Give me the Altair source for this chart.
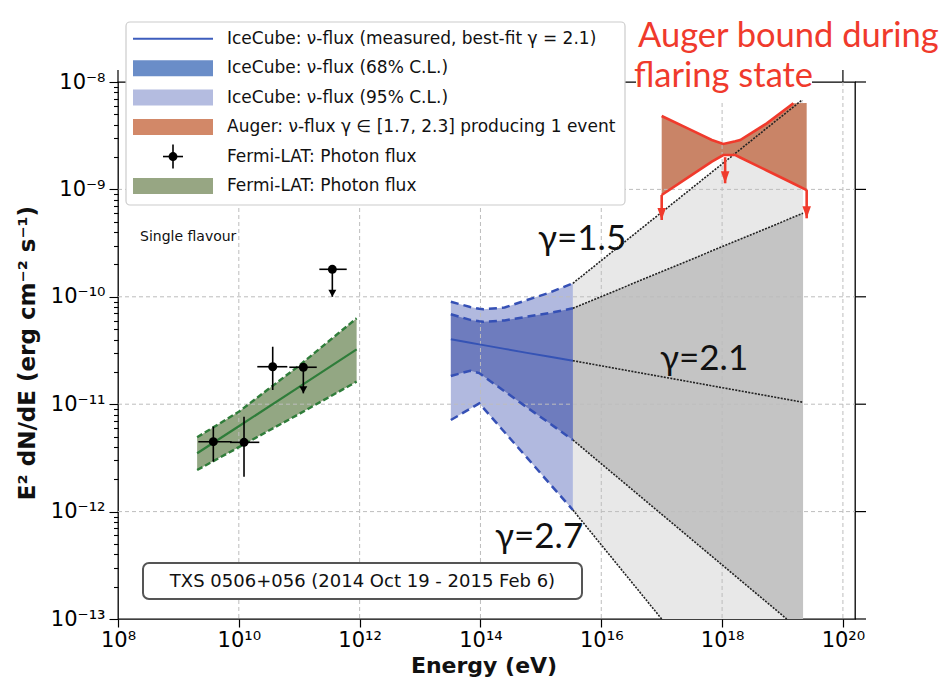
import altair as alt
import pandas as pd

# ---------------------------------------------------------------------------
# Values are stored as log10: energy in eV, flux as E^2 dN/dE in erg cm^-2 s^-1
# ---------------------------------------------------------------------------

# Fermi-LAT spectral points (last two are upper limits)
fermi_log_e = [9.578, 10.086, 10.561, 11.068, 11.548]
fermi_log_e_lo = [9.329, 9.854, 10.306, 10.836, 11.333]
fermi_log_e_hi = [9.882, 10.339, 10.803, 11.290, 11.786]
fermi_log_f = [-11.349, -11.355, -10.651, -10.656, -9.744]
fermi_log_f_lo = [-11.535, -11.675, -10.868, -10.899, -10.000]
fermi_log_f_hi = [-11.209, -11.116, -10.465, -10.656, -9.744]
fermi_upper_limit = [False, False, False, True, True]

# Fermi-LAT power-law butterfly
fermi_band_log_e = [9.31, 10.0, 11.0, 11.95]
fermi_band_mid = [-11.457, -11.205, -10.838, -10.489]
fermi_band_up = [-11.308, -11.070, -10.640, -10.200]
fermi_band_lo = [-11.613, -11.400, -11.090, -10.790]

# IceCube neutrino flux (best fit gamma = 2.1) with 68% / 95% C.L. contours
ic_log_e = [13.51, 13.83, 13.98, 14.05, 14.40, 14.77, 15.15, 15.53]
ic_best = [-10.396, -10.428, -10.443, -10.450, -10.485, -10.522, -10.559, -10.595]
ic_up68 = [-10.163, -10.215, -10.228, -10.232, -10.220, -10.185, -10.150, -10.107]
ic_lo68 = [-10.737, -10.688, -10.710, -10.740, -10.880, -11.030, -11.180, -11.333]
ic_up95 = [-10.046, -10.095, -10.112, -10.116, -10.100, -10.030, -9.960, -9.874]
ic_lo95 = [-11.147, -11.042, -10.992, -11.037, -11.261, -11.498, -11.742, -11.985]

# Extrapolation of the IceCube spectrum to higher energies
ext_light_log_e = [15.53, 17.00, 19.34]
ext_light_top = [-9.874, -9.213, -8.160]
ext_light_bot = [-11.985, -13.000, -13.000]
ext_dark_log_e = [15.53, 19.07, 19.34]
ext_dark_top = [-10.107, -9.286, -9.222]
ext_dark_bot = [-11.333, -13.000, -13.000]
ext_lines = {
    "g15": [(15.53, -9.874), (19.34, -8.160)],
    "up68": [(15.53, -10.107), (19.34, -9.222)],
    "g21": [(15.53, -10.595), (19.34, -10.982)],
    "lo68": [(15.53, -11.333), (19.07, -13.000)],
    "g27": [(15.53, -11.985), (17.00, -13.000)],
}

# Auger bound (gamma in [1.7, 2.3], one event)
auger_log_e = [17.00, 17.50, 17.83, 18.02, 18.22, 18.30, 18.74, 19.18, 19.40]
auger_up = [-8.317, -8.451, -8.540, -8.577, -8.552, -8.540, -8.385, -8.198, -8.196]
auger_lo = [-9.052, -8.865, -8.742, -8.680, -8.680, -8.703, -8.824, -8.945, -9.006]
auger_arrow_log_e = [17.00, 18.05, 19.40]
auger_arrow_from = [-9.052, -8.700, -9.006]
auger_arrow_to = [-9.285, -8.943, -9.269]

x_label_exps = [8, 10, 12, 14, 16, 18, 20]
y_label_exps = [-13, -12, -11, -10, -9, -8]

legend_labels = [
    "IceCube: ν-flux (measured, best-fit γ = 2.1)",
    "IceCube: ν-flux (68% C.L.)",
    "IceCube: ν-flux (95% C.L.)",
    "Auger: ν-flux γ ∈ [1.7, 2.3] producing 1 event",
    "Fermi-LAT: Photon flux",
    "Fermi-LAT: Photon flux",
]

# ---------------------------------------------------------------------------
W, H = 737, 537
FONT = "DejaVu Sans"
GILL = "Lato"


def pow10(a):
    return [10.0 ** v for v in a]


SUP = str.maketrans("0123456789-", "⁰¹²³⁴⁵⁶⁷⁸⁹⁻")


def pow_label(e):
    return "10" + str(e).translate(SUP)


DEC = "abs(log(datum.value)/LN10 - round(log(datum.value)/LN10)) < 0.01"


def label_expr(exps):
    expr = "''"
    for e in exps:
        expr = f"round(log(datum.value)/LN10) == {e} ? '{pow_label(e)}' : ({expr})"
    return f"({DEC}) ? ({expr}) : ''"


xs = alt.Scale(type="log", domain=[1e8, 10 ** 20.2], nice=False)
ys = alt.Scale(type="log", domain=[1e-13, 1e-8], nice=False)

x_axis = alt.Axis(
    values=pow10(x_label_exps), labelExpr=label_expr(x_label_exps), title=None,
    grid=False, domain=False, tickColor="black", tickWidth=1.2, tickSize=8,
    labelFont=FONT, labelFontSize=21, labelColor="black", labelPadding=2,
    labelFlush=False, labelOverlap=False, zindex=1,
)
y_minor = [k * 10.0 ** e for e in range(-13, -8) for k in range(1, 10)] + [1e-8]
y_axis = alt.Axis(
    values=y_minor, labelExpr=label_expr(y_label_exps), title=None,
    grid=False, domain=False, tickColor="black", tickWidth=1.1,
    tickSize={"condition": {"test": DEC, "value": 9}, "value": 4.5},
    labelFont=FONT, labelFontSize=21, labelColor="black", labelPadding=4,
    labelFlush=False, labelOverlap=False, zindex=1,
)


def X(f):
    return alt.X(f"{f}:Q", scale=xs, axis=x_axis)


def Y(f):
    return alt.Y(f"{f}:Q", scale=ys, axis=y_axis)


def long_df(series):
    rows = []
    for name, pts in series.items():
        for le, lf in pts:
            rows.append({"s": name, "e": 10.0 ** le, "f": 10.0 ** lf})
    return pd.DataFrame(rows)


one = pd.DataFrame({"k": [0]})
layers = []

# --- extrapolation shading ---------------------------------------------------
light = pd.DataFrame({"e": pow10(ext_light_log_e), "t": pow10(ext_light_top), "b": pow10(ext_light_bot)})
dark = pd.DataFrame({"e": pow10(ext_dark_log_e), "t": pow10(ext_dark_top), "b": pow10(ext_dark_bot)})
layers.append(alt.Chart(light).mark_area(color="#e8e8e8").encode(x=X("e"), y=Y("t"), y2=alt.Y2("b")))
layers.append(alt.Chart(dark).mark_area(color="#c4c4c4").encode(x=X("e"), y=Y("t"), y2=alt.Y2("b")))

# --- IceCube contours ----------------------------------------------------------
ic = pd.DataFrame({
    "e": pow10(ic_log_e), "best": pow10(ic_best),
    "up68": pow10(ic_up68), "lo68": pow10(ic_lo68),
    "up95": pow10(ic_up95), "lo95": pow10(ic_lo95),
})
layers.append(alt.Chart(ic).mark_area(color="#b1b9df").encode(x=X("e"), y=Y("up95"), y2=alt.Y2("lo95")))
layers.append(alt.Chart(ic).mark_area(color="#6e7cbe").encode(x=X("e"), y=Y("up68"), y2=alt.Y2("lo68")))

# --- Auger band ------------------------------------------------------------------
auger = pd.DataFrame({"e": pow10(auger_log_e), "u": pow10(auger_up), "l": pow10(auger_lo)})
layers.append(alt.Chart(auger).mark_area(color="#c98467").encode(x=X("e"), y=Y("u"), y2=alt.Y2("l")))

# --- Fermi butterfly -----------------------------------------------------------------
fb = pd.DataFrame({
    "e": pow10(fermi_band_log_e), "m": pow10(fermi_band_mid),
    "u": pow10(fermi_band_up), "l": pow10(fermi_band_lo),
})
layers.append(alt.Chart(fb).mark_area(color="#93a783").encode(x=X("e"), y=Y("u"), y2=alt.Y2("l")))

# --- dashed grid ---------------------------------------------------------------------
gx = pd.DataFrame({"v": pow10([10, 12, 14, 16, 18, 20])})
gy = pd.DataFrame({"v": pow10([-12, -11, -10, -9])})
grid_style = dict(color="#bdbdbd", strokeWidth=1, strokeDash=[4, 3])
layers.append(alt.Chart(gx).mark_rule(**grid_style).encode(x=X("v"), y=alt.value(0), y2=alt.value(H)))
layers.append(alt.Chart(gy).mark_rule(**grid_style).encode(y=Y("v"), x=alt.value(0), x2=alt.value(W)))

# --- IceCube lines -------------------------------------------------------------------
ic_bounds = long_df({
    name: list(zip(ic_log_e, arr))
    for name, arr in [("up68", ic_up68), ("lo68", ic_lo68), ("up95", ic_up95), ("lo95", ic_lo95)]
})
layers.append(alt.Chart(ic_bounds).mark_line(color="#3550b5", strokeWidth=2.5, strokeDash=[8, 5]).encode(
    x=X("e"), y=Y("f"), detail="s:N"))
layers.append(alt.Chart(ic).mark_line(color="#3553b5", strokeWidth=2).encode(x=X("e"), y=Y("best")))

# --- extrapolation lines -------------------------------------------------------------
layers.append(alt.Chart(long_df(ext_lines)).mark_line(color="#222222", strokeWidth=1.6, strokeDash=[2, 1.3]).encode(
    x=X("e"), y=Y("f"), detail="s:N"))

# --- Auger bound outline and arrows ----------------------------------------------------
auger_lines = long_df({
    "top": [(le, lf) for le, lf in zip(auger_log_e, auger_up) if le <= 19.2],
    "bottom": list(zip(auger_log_e, auger_lo)),
})
RED = "#f03a2c"
layers.append(alt.Chart(auger_lines).mark_line(color=RED, strokeWidth=2.6).encode(x=X("e"), y=Y("f"), detail="s:N"))
aar = pd.DataFrame({"e": pow10(auger_arrow_log_e), "a": pow10(auger_arrow_from), "b": pow10(auger_arrow_to)})
layers.append(alt.Chart(aar).mark_rule(color=RED, strokeWidth=2.6).encode(x=X("e"), y=Y("a"), y2=alt.Y2("b")))
layers.append(alt.Chart(aar).mark_point(
    shape="M-0.85,-2.4L0.85,-2.4L0,0Z", filled=True, color=RED, size=100, opacity=1).encode(x=X("e"), y=Y("b")))

# --- Fermi butterfly lines -------------------------------------------------------------
GREEN = "#2f7d3a"
fb_bounds = long_df({"u": list(zip(fermi_band_log_e, fermi_band_up)), "l": list(zip(fermi_band_log_e, fermi_band_lo))})
layers.append(alt.Chart(fb_bounds).mark_line(color=GREEN, strokeWidth=2.4, strokeDash=[6, 3]).encode(
    x=X("e"), y=Y("f"), detail="s:N"))
layers.append(alt.Chart(fb).mark_line(color=GREEN, strokeWidth=2.2).encode(x=X("e"), y=Y("m")))

# --- Fermi points --------------------------------------------------------------------------
fp = pd.DataFrame({
    "e": pow10(fermi_log_e), "elo": pow10(fermi_log_e_lo), "ehi": pow10(fermi_log_e_hi),
    "f": pow10(fermi_log_f), "flo": pow10(fermi_log_f_lo), "fhi": pow10(fermi_log_f_hi),
    "ul": fermi_upper_limit,
})
layers.append(alt.Chart(fp).mark_rule(color="black", strokeWidth=1.6).encode(x=X("elo"), x2=alt.X2("ehi"), y=Y("f")))
layers.append(alt.Chart(fp).mark_rule(color="black", strokeWidth=1.6).encode(x=X("e"), y=Y("flo"), y2=alt.Y2("fhi")))
layers.append(alt.Chart(fp).mark_circle(color="black", size=80, opacity=1).encode(x=X("e"), y=Y("f")))
layers.append(alt.Chart(fp).transform_filter("datum.ul").mark_point(
    shape="M-0.8,-1.4L0.8,-1.4L0,0Z", filled=True, color="black", size=100, opacity=1).encode(x=X("e"), y=Y("flo")))

# --- outer ticks on top and right ----------------------------------------------------------
layers.append(alt.Chart(pd.DataFrame({"v": pow10(x_label_exps)})).mark_rule(color="black", strokeWidth=1.2).encode(
    x=X("v"), y=alt.value(0), y2=alt.value(-12)))
layers.append(alt.Chart(pd.DataFrame({"v": pow10(y_label_exps)})).mark_rule(color="black", strokeWidth=1.2).encode(
    y=Y("v"), x=alt.value(W), x2=alt.value(W + 11)))

# --- legend ----------------------------------------------------------------------------------
layers.append(alt.Chart(one).mark_rect(fill="white", stroke="#cccccc", strokeWidth=1.2, cornerRadius=4).encode(
    x=alt.value(8), x2=alt.value(507), y=alt.value(-60), y2=alt.value(123)))
row_y = [-43.3 + 29.46 * i for i in range(6)]
swatches = {1: "#6a8dc8", 2: "#b4bce0", 3: "#d28868", 5: "#97a683"}
layers.append(alt.Chart(one).mark_rule(color="#3d5dbd", strokeWidth=2).encode(
    x=alt.value(15), x2=alt.value(95), y=alt.value(row_y[0])))
for i, c in swatches.items():
    layers.append(alt.Chart(one).mark_rect(color=c).encode(
        x=alt.value(15), x2=alt.value(95), y=alt.value(row_y[i] - 8), y2=alt.value(row_y[i] + 8)))
layers.append(alt.Chart(one).mark_rule(color="black", strokeWidth=1.6).encode(
    x=alt.value(45), x2=alt.value(65), y=alt.value(row_y[4])))
layers.append(alt.Chart(one).mark_rule(color="black", strokeWidth=1.6).encode(
    x=alt.value(55), y=alt.value(row_y[4] - 12), y2=alt.value(row_y[4] + 12)))
layers.append(alt.Chart(one).mark_circle(color="black", size=80, opacity=1).encode(
    x=alt.value(55), y=alt.value(row_y[4])))
for i, lab in enumerate(legend_labels):
    layers.append(alt.Chart(one).mark_text(
        text=lab, font=FONT, fontSize=17, color="#111111", align="left", baseline="middle").encode(
        x=alt.value(109), y=alt.value(row_y[i])))

# --- Auger annotation ------------------------------------------------------------------------------
layers.append(alt.Chart(one).mark_rect(fill="white").encode(
    x=alt.value(518), x2=alt.value(694), y=alt.value(-82), y2=alt.value(18)))
layers.append(alt.Chart(one).mark_text(
    text="Auger bound during", font=GILL, fontSize=34.5, color=RED, align="left", baseline="alphabetic").encode(
    x=alt.value(520), y=alt.value(-35)))
layers.append(alt.Chart(one).mark_text(
    text="flaring state", font=GILL, fontSize=34.5, color=RED, align="left", baseline="alphabetic").encode(
    x=alt.value(516), y=alt.value(5)))

# --- spectral index labels ------------------------------------------------------------------------
for txt, px, py in [("γ=1.5", 420, 168), ("γ=2.1", 542, 288), ("γ=2.7", 377, 466)]:
    layers.append(alt.Chart(one).mark_text(
        text=txt, font=GILL, fontSize=35, color="#111111", align="left", baseline="alphabetic").encode(
        x=alt.value(px), y=alt.value(py)))

layers.append(alt.Chart(one).mark_text(
    text="Single flavour", font=FONT, fontSize=14, color="#111111", align="left", baseline="alphabetic").encode(
    x=alt.value(22), y=alt.value(159)))

# --- source box ---------------------------------------------------------------------------------------
layers.append(alt.Chart(one).mark_rect(fill="white", stroke="#555555", strokeWidth=2, cornerRadius=6).encode(
    x=alt.value(25), x2=alt.value(464), y=alt.value(481), y2=alt.value(517)))
layers.append(alt.Chart(one).mark_text(
    text="TXS 0506+056 (2014 Oct 19 - 2015 Feb 6)", font=FONT, fontSize=18, color="#111111",
    align="center", baseline="middle").encode(x=alt.value(244.5), y=alt.value(499.5)))

# --- axis titles -------------------------------------------------------------------------------------
layers.append(alt.Chart(one).mark_text(
    text="Energy (eV)", font=FONT, fontSize=22, fontWeight="bold", color="#111111",
    align="center", baseline="alphabetic").encode(x=alt.value(366), y=alt.value(591)))
layers.append(alt.Chart(one).mark_text(
    text="E² dN/dE (erg cm⁻² s⁻¹)", font=FONT, fontSize=23, fontWeight="bold", color="#111111",
    align="center", baseline="middle", angle=270).encode(x=alt.value(-90), y=alt.value(271)))

chart = alt.layer(*layers).properties(
    width=W, height=H,
    padding={"left": 118, "top": 82, "right": 92, "bottom": 71},
    autosize=alt.AutoSizeParams(type="none"),
    background="white",
).configure_view(stroke="black", strokeWidth=1.3)

chart.save("out.html", embed_options={"renderer": "svg", "actions": False})
